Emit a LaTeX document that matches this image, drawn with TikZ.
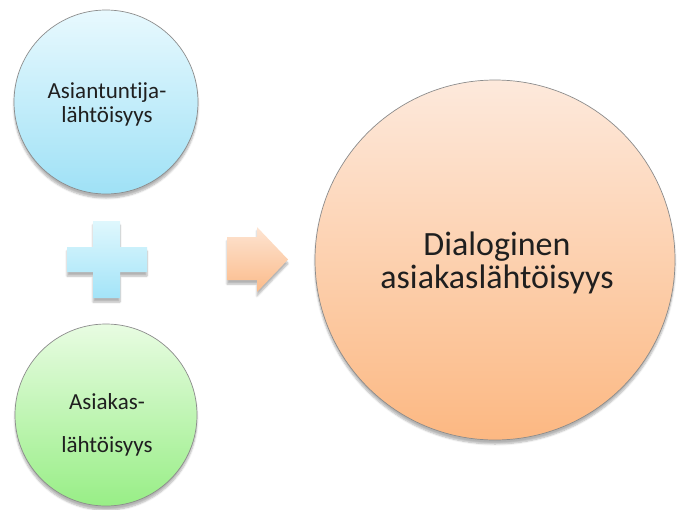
\documentclass[tikz,border=0pt]{standalone}
\usepackage{fontspec}
\setmainfont{Carlito}[Ligatures=NoCommon]
\usetikzlibrary{shadows.blur}
\definecolor{bluetop}{HTML}{E8F9FE}
\definecolor{bluebot}{HTML}{9FE1F6}
\definecolor{greentop}{HTML}{E8FCE2}
\definecolor{greenbot}{HTML}{98EE86}
\definecolor{orangetop}{HTML}{FDE9DC}
\definecolor{orangebot}{HTML}{FCB882}
\definecolor{plustop}{HTML}{DFF7FD}
\definecolor{plusbot}{HTML}{A3E4F8}
\definecolor{arrowtop}{HTML}{FDE4D2}
\definecolor{arrowbot}{HTML}{FBBB8A}

\tikzset{
  softshadow/.style={blur shadow={shadow xshift=0pt, shadow yshift=-4pt,
      shadow blur steps=6, shadow opacity=30}},
  bubble/.style={circle, draw=black!45, line width=0.7pt, inner sep=0pt, softshadow},
  smalltext/.style={align=center, font=\fontsize{23}{24}\selectfont, text=black!88},
  bigtext/.style={align=center, font=\fontsize{34}{33}\selectfont, text=black!88},
}

\begin{document}
\begin{tikzpicture}[x=1pt,y=-1pt]
\useasboundingbox (0,0) rectangle (680,509);
  % left circles
  \node[bubble, minimum size=184pt, top color=bluetop, bottom color=bluebot] (expert) at (106,102) {};
  \node[bubble, minimum size=182pt, top color=greentop, bottom color=greenbot] (client) at (106,415) {};
  % big circle
  \node[bubble, minimum size=360pt, top color=orangetop, bottom color=orangebot] (dialog) at (495,260) {};
  % texts
  \node[smalltext] (expert text) at (107,104) {Asiantuntija-\\lähtöisyys};
  \node[smalltext] (client text) at (107,425) {Asiakas-\\[19pt]lähtöisyys};
  \node[bigtext] (dialog text) at (497,263) {Dialoginen\\asiakaslähtöisyys};
  % plus
  \shade[top color=plustop, bottom color=plusbot, softshadow]
    (93,221) -- (120,221) -- (120,247) -- (147,247) -- (147,272) -- (120,272)
    -- (120,298) -- (93,298) -- (93,272) -- (67,272) -- (67,247) -- (93,247) -- cycle;
  % arrow
  \shade[top color=arrowtop, bottom color=arrowbot, softshadow]
    (227,237) -- (257,237) -- (257,227) -- (288,259.5) -- (257,292) -- (257,280)
    -- (227,280) -- cycle;
\end{tikzpicture}
\end{document}
